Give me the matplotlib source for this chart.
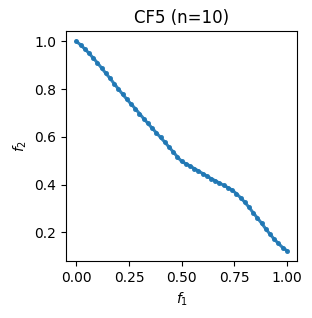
import matplotlib
matplotlib.use("Agg")
import matplotlib.pyplot as plt

f1 = [0.00, 0.02, 0.04, 0.06, 0.08, 0.10, 0.12, 0.14, 0.16, 0.18,
      0.20, 0.22, 0.24, 0.26, 0.28, 0.30, 0.32, 0.34, 0.36, 0.38,
      0.40, 0.42, 0.44, 0.46, 0.48, 0.50, 0.52, 0.54, 0.56, 0.58,
      0.60, 0.62, 0.64, 0.66, 0.68, 0.70, 0.72, 0.74, 0.76, 0.78,
      0.80, 0.82, 0.84, 0.86, 0.88, 0.90, 0.92, 0.94, 0.96, 0.98, 1.00]
f2 = [1.000, 0.985, 0.968, 0.950, 0.930, 0.910, 0.888, 0.866, 0.845, 0.822,
      0.800, 0.778, 0.757, 0.737, 0.718, 0.697, 0.676, 0.656, 0.636, 0.617,
      0.597, 0.578, 0.557, 0.537, 0.516, 0.497, 0.487, 0.478, 0.467, 0.457,
      0.446, 0.436, 0.425, 0.416, 0.406, 0.397, 0.387, 0.377, 0.362, 0.345,
      0.326, 0.305, 0.282, 0.260, 0.238, 0.214, 0.192, 0.171, 0.153, 0.136, 0.123]

fig, ax = plt.subplots(figsize=(3.12, 3.18), dpi=100)
ax.plot(f1, f2, color="tab:blue", lw=2.2, marker="o", ms=2.6, alpha=0.9)
ax.set_title("CF5 (n=10)")
ax.set_xlabel("$f_1$")
ax.set_ylabel("$f_2$")
ax.set_xticks([0.0, 0.25, 0.5, 0.75, 1.0])
fig.subplots_adjust(left=0.211, right=0.953, bottom=0.179, top=0.903)
fig.savefig("out.png", dpi=100)
